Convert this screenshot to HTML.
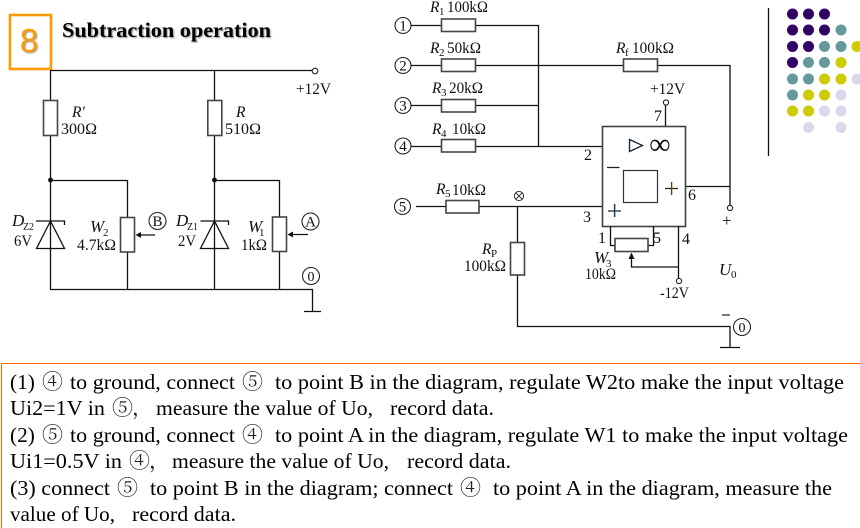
<!DOCTYPE html>
<html><head><meta charset="utf-8"><style>
html,body{margin:0;padding:0;background:#fff;width:860px;height:528px;overflow:hidden}
svg{display:block}
text{font-family:"Liberation Serif","Noto Serif CJK SC",serif;fill:#111;font-size:15.5px;white-space:pre}
.i{font-style:italic}
.s{font-size:11px}
.t{font-size:21.3px;fill:#000}
.c2{font-size:21px;fill:#222}
.w{fill:none;stroke:#111;stroke-width:1.3}
.r{fill:#fff;stroke:#444;stroke-width:1.6}
.c{fill:#fff;stroke:#222;stroke-width:1.1}
.m{text-anchor:middle}
</style></head><body>
<svg width="860" height="528" viewBox="0 0 860 528" xmlns="http://www.w3.org/2000/svg">
<defs><filter id="sh" x="-5%" y="-20%" width="110%" height="150%"><feDropShadow dx="1" dy="1" stdDeviation="0.9" flood-color="#000" flood-opacity=".45"/></filter></defs>

<rect x="10" y="15" width="41" height="54" fill="#fff" stroke="#f90" stroke-width="2.6"/>
<text x="29" y="52" class="m" style="font-family:'Liberation Sans',sans-serif;font-size:33px;fill:#f90" filter="url(#sh)">8</text>
<text x="62" y="37" textLength="209" lengthAdjust="spacingAndGlyphs" style="font-size:21.3px;font-weight:bold;fill:#000" filter="url(#sh)">Subtraction operation</text>

<!-- left circuit -->
<path class="w" d="M50.5 70.5H312M50.5 70.5V289.5H312.5V311M304 311.5H321M214.5 70.5V289.5M50.5 180.5H127.5V289.5M214.5 180.5H279.5V289.5"/>
<circle class="c" cx="315" cy="71" r="2.8"/>
<text x="296" y="94" textLength="35" lengthAdjust="spacingAndGlyphs">+12V</text>
<rect class="r" x="43.5" y="100.5" width="14" height="35"/>
<rect class="r" x="207.8" y="100.5" width="14" height="35"/>
<text x="72" y="117" class="i">R′</text><text x="61" y="134" textLength="36" lengthAdjust="spacingAndGlyphs">300Ω</text>
<text x="236" y="117" class="i">R</text><text x="225" y="134" textLength="36" lengthAdjust="spacingAndGlyphs">510Ω</text>
<circle cx="50.5" cy="180" r="2.4" fill="#111"/><circle cx="214.5" cy="180" r="2.4" fill="#111"/>
<path class="w" d="M50.5 221L36.5 248.5H64.5ZM36 221H64.5V225M200.5 221H228.5V225"/>
<path class="w" d="M214.5 221L200.5 248.5H228.5Z"/>
<rect class="r" x="120.5" y="217.5" width="14" height="34.5"/>
<rect class="r" x="272.5" y="217" width="14" height="34.5"/>
<path class="w" d="M155 235H138M308 234.5H291"/>
<path d="M135.5 235L141 232V238ZM287.5 234.5L293 231.5V237.5Z" fill="#111"/>
<text x="12" y="226" class="i" style="font-size:17px">D</text><text x="23" y="230" class="s" textLength="11" lengthAdjust="spacingAndGlyphs">Z2</text>
<text x="14" y="246" textLength="18" lengthAdjust="spacingAndGlyphs">6V</text>
<text x="90" y="232" class="i" style="font-size:17px">W</text><text x="103" y="236" class="s">2</text>
<text x="77" y="250" textLength="39" lengthAdjust="spacingAndGlyphs">4.7kΩ</text>
<text x="176" y="226" class="i" style="font-size:17px">D</text><text x="187" y="230" class="s" textLength="11" lengthAdjust="spacingAndGlyphs">Z1</text>
<text x="178" y="246" textLength="18" lengthAdjust="spacingAndGlyphs">2V</text>
<text x="248" y="232" class="i" style="font-size:17px">W</text><text x="259" y="236" class="s">1</text>
<text x="241" y="250" textLength="26" lengthAdjust="spacingAndGlyphs">1kΩ</text>
<circle class="c" cx="157.5" cy="221" r="8.5"/><text x="157.5" y="226" class="m" style="font-size:15px">B</text>
<circle class="c" cx="310.5" cy="221.5" r="8.5"/><text x="310.5" y="226.5" class="m" style="font-size:15px">A</text>
<circle class="c" cx="311" cy="276" r="8.5"/><text x="311" y="281" class="m" style="font-size:14px">0</text>

<!-- inputs -->
<path class="w" d="M411 25.5H538.5V146.5M411 65.5H730V205M411 105.5H538.5M411 146.5H602M416 206.5H602M517.5 206.5V326.5H730V347M720 347.5H740M686 186.5H730"/>
<g><circle class="c" cx="403" cy="25.5" r="8"/><text x="403" y="30.5" class="m" style="font-size:15px">1</text>
<circle class="c" cx="403" cy="65.5" r="8"/><text x="403" y="70.5" class="m" style="font-size:15px">2</text>
<circle class="c" cx="403" cy="105.5" r="8"/><text x="403" y="110.5" class="m" style="font-size:15px">3</text>
<circle class="c" cx="403" cy="146" r="8"/><text x="403" y="151" class="m" style="font-size:15px">4</text>
<circle class="c" cx="402.5" cy="206.5" r="8"/><text x="402.5" y="211.5" class="m" style="font-size:15px">5</text></g>
<rect class="r" x="441.5" y="19" width="34" height="12.5"/>
<rect class="r" x="441.5" y="59" width="34" height="12.5"/>
<rect class="r" x="441.5" y="99.5" width="34" height="12.5"/>
<rect class="r" x="441.5" y="139.5" width="34" height="12.5"/>
<rect class="r" x="446" y="200.5" width="33" height="12.5"/>
<rect class="r" x="623.5" y="59" width="34" height="12.5"/>
<rect class="r" x="510.5" y="242.5" width="14" height="32.5"/>
<text x="430" y="12" class="i">R</text><text x="439" y="15" class="s">1</text><text x="447" y="12" textLength="41" lengthAdjust="spacingAndGlyphs">100kΩ</text>
<text x="430" y="53" class="i">R</text><text x="439" y="56" class="s">2</text><text x="447" y="53" textLength="34" lengthAdjust="spacingAndGlyphs">50kΩ</text>
<text x="432" y="93" class="i">R</text><text x="441" y="96" class="s">3</text><text x="449" y="93" textLength="34" lengthAdjust="spacingAndGlyphs">20kΩ</text>
<text x="432" y="134" class="i">R</text><text x="441" y="137" class="s">4</text><text x="452" y="134" textLength="34" lengthAdjust="spacingAndGlyphs">10kΩ</text>
<text x="436" y="194" class="i">R</text><text x="445" y="197" class="s">5</text><text x="452" y="195" textLength="34" lengthAdjust="spacingAndGlyphs">10kΩ</text>
<text x="616" y="53" class="i">R</text><text x="625" y="56" class="s">f</text><text x="632" y="53" textLength="42" lengthAdjust="spacingAndGlyphs">100kΩ</text>
<text x="482" y="254" class="i">R</text><text x="491" y="257" class="s">P</text><text x="464" y="271" textLength="42" lengthAdjust="spacingAndGlyphs">100kΩ</text>
<circle cx="519" cy="196" r="4.6" fill="none" stroke="#333" stroke-width="1"/><path d="M515.8 192.8L522.2 199.2M522.2 192.8L515.8 199.2" stroke="#333" stroke-width="1"/>

<!-- op amp -->
<rect x="602.5" y="126.5" width="83" height="100" fill="#fff" stroke="#444" stroke-width="1.6"/>
<rect x="623.5" y="170.5" width="34" height="32" fill="#fff" stroke="#333" stroke-width="1.2"/>
<path d="M629.5 139.5L642.5 145.5L629.5 151.5Z" fill="none" stroke="#123" stroke-width="1.3"/>
<text x="660" y="154" class="m" style="font-size:30px">∞</text>
<path d="M607 167.5H619.5M665 188.5H678M608 211H621M614.5 204V217M671.5 182V195" stroke="#222" stroke-width="1.2" fill="none"/>
<path d="M615 204V217" stroke="#06a" stroke-width=".7"/><path d="M672 182V195" stroke="#c70" stroke-width=".7"/>
<path class="w" d="M665.5 126V105"/><circle class="c" cx="666" cy="102.5" r="2.6"/>
<text x="650" y="94" textLength="35" lengthAdjust="spacingAndGlyphs">+12V</text>
<text x="654" y="121" style="font-size:16px">7</text>
<text x="584" y="160" style="font-size:16px">2</text>
<text x="583" y="222" style="font-size:16px">3</text>
<text x="688" y="200" style="font-size:16px">6</text>
<text x="598" y="243" style="font-size:16px">1</text>
<text x="653" y="243" style="font-size:16px">5</text>
<text x="682" y="244" style="font-size:16px">4</text>
<path class="w" d="M610.5 226V245.5H615M653.5 226V245.5H648M678.5 226V278.5M631.5 257V267H678.5"/>
<path d="M631.5 252.5L628.5 259H634.5Z" fill="#111"/>
<rect class="r" x="615" y="238.5" width="33" height="13"/>
<circle class="c" cx="679" cy="281" r="2.6"/>
<circle class="c" cx="730" cy="208" r="2.6"/>
<text x="594" y="263" class="i" style="font-size:17px">W</text><text x="606" y="267" class="s">3</text>
<text x="585" y="279" textLength="31" lengthAdjust="spacingAndGlyphs">10kΩ</text>
<text x="660" y="298" textLength="29" lengthAdjust="spacingAndGlyphs">-12V</text>
<text x="722" y="226" style="font-size:17px">+</text>
<text x="719" y="275" class="i" style="font-size:17px">U</text><text x="731" y="278" class="s">0</text>
<path d="M722 315H730" stroke="#222" stroke-width="1.2"/>
<circle class="c" cx="742" cy="327" r="8.5"/><text x="742" y="332" class="m" style="font-size:14px">0</text>

<!-- dots -->
<path d="M768.5 8V156" stroke="#111" stroke-width="1.3"/>
<g fill="#330066"><circle cx="792.5" cy="14" r="5.5"/><circle cx="808.5" cy="14" r="5.5"/><circle cx="824.5" cy="14" r="5.5"/><circle cx="792.5" cy="30" r="5.5"/><circle cx="808.5" cy="30" r="5.5"/><circle cx="824.5" cy="30" r="5.5"/><circle cx="792.5" cy="46.5" r="5.5"/><circle cx="808.5" cy="46.5" r="5.5"/><circle cx="792.5" cy="62.5" r="5.5"/></g>
<g fill="#669999"><circle cx="841" cy="30" r="5.5"/><circle cx="824.5" cy="46.5" r="5.5"/><circle cx="841" cy="46.5" r="5.5"/><circle cx="808.5" cy="62.5" r="5.5"/><circle cx="824.5" cy="62.5" r="5.5"/><circle cx="792.5" cy="79" r="5.5"/><circle cx="808.5" cy="79" r="5.5"/><circle cx="792.5" cy="95" r="5.5"/></g>
<g fill="#cccc00"><circle cx="857" cy="46.5" r="5.5"/><circle cx="841" cy="62.5" r="5.5"/><circle cx="824.5" cy="79" r="5.5"/><circle cx="841" cy="79" r="5.5"/><circle cx="808.5" cy="95" r="5.5"/><circle cx="824.5" cy="95" r="5.5"/><circle cx="792.5" cy="111" r="5.5"/><circle cx="808.5" cy="111" r="5.5"/></g>
<g fill="#d9d9ec"><circle cx="857" cy="79" r="5.5"/><circle cx="841" cy="95" r="5.5"/><circle cx="824.5" cy="111" r="5.5"/><circle cx="841" cy="111" r="5.5"/><circle cx="808.5" cy="127.5" r="5.5"/><circle cx="841" cy="127.5" r="5.5"/></g>

<!-- text box -->
<path d="M1.5 528V363.5H860" fill="none" stroke="#f60" stroke-width="1"/>
<g class="x">
<text class="t" x="10" y="389">(1)</text><text class="c2" x="42" y="389">④</text>
<text class="t" x="70" y="389" textLength="165" lengthAdjust="spacingAndGlyphs">to ground, connect</text><text class="c2" x="242" y="389">⑤</text>
<text class="t" x="275" y="389" textLength="569" lengthAdjust="spacingAndGlyphs">to point B in the diagram, regulate W2to make the input voltage</text>

<text class="t" x="10" y="415" textLength="95" lengthAdjust="spacingAndGlyphs">Ui2=1V in</text><text class="c2" x="112" y="415">⑤</text><text class="c2" x="132" y="415">，</text>
<text class="t" x="156" y="415" textLength="217" lengthAdjust="spacingAndGlyphs">measure the value of Uo,</text>
<text class="t" x="390" y="415" textLength="104" lengthAdjust="spacingAndGlyphs">record data.</text>

<text class="t" x="10" y="442">(2)</text><text class="c2" x="42" y="442">⑤</text>
<text class="t" x="70" y="442" textLength="165" lengthAdjust="spacingAndGlyphs">to ground, connect</text><text class="c2" x="242" y="442">④</text>
<text class="t" x="275" y="442" textLength="573" lengthAdjust="spacingAndGlyphs">to point A in the diagram, regulate W1 to make the input voltage</text>

<text class="t" x="10" y="468" textLength="112" lengthAdjust="spacingAndGlyphs">Ui1=0.5V in</text><text class="c2" x="129" y="468">④</text><text class="c2" x="149" y="468">，</text>
<text class="t" x="172" y="468" textLength="217" lengthAdjust="spacingAndGlyphs">measure the value of Uo,</text>
<text class="t" x="407" y="468" textLength="104" lengthAdjust="spacingAndGlyphs">record data.</text>

<text class="t" x="10" y="495" textLength="100" lengthAdjust="spacingAndGlyphs">(3) connect</text><text class="c2" x="117" y="495">⑤</text>
<text class="t" x="150" y="495" textLength="303" lengthAdjust="spacingAndGlyphs">to point B in the diagram; connect</text><text class="c2" x="460" y="495">④</text>
<text class="t" x="493" y="495" textLength="339" lengthAdjust="spacingAndGlyphs">to point A in the diagram, measure the</text>

<text class="t" x="10" y="521" textLength="105" lengthAdjust="spacingAndGlyphs">value of Uo,</text>
<text class="t" x="132" y="521" textLength="104" lengthAdjust="spacingAndGlyphs">record data.</text>
</g>
</svg>
</body></html>
